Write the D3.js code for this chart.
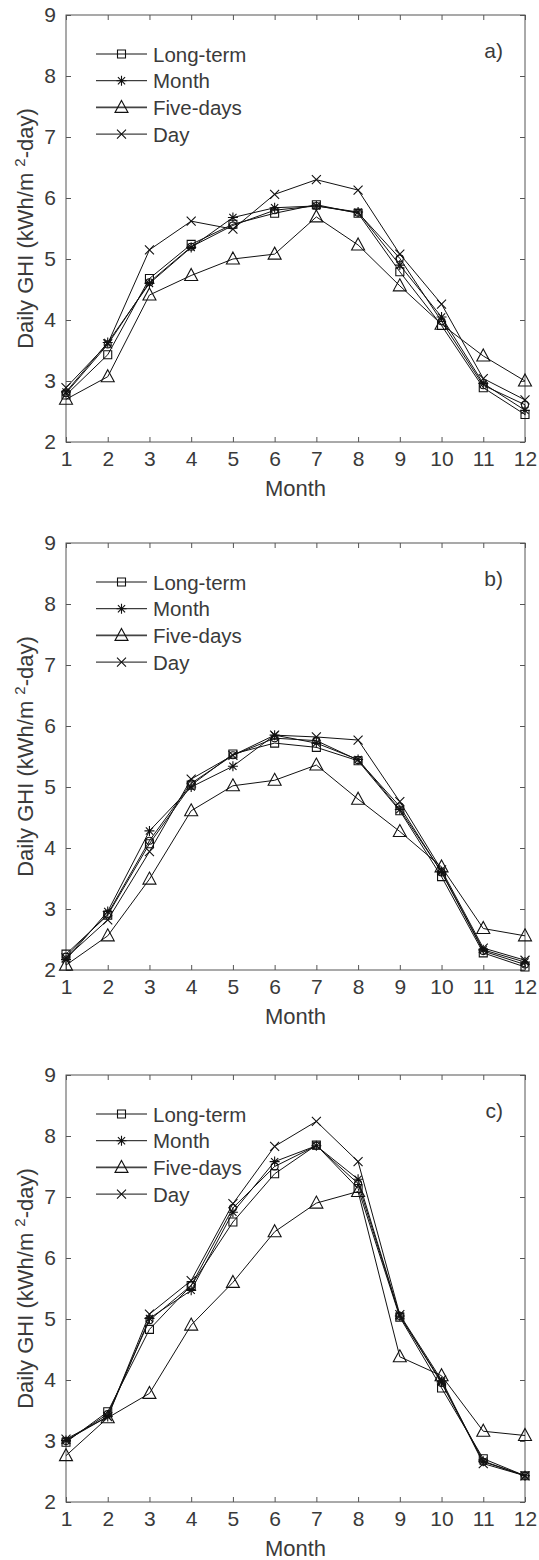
<!DOCTYPE html>
<html>
<head>
<meta charset="utf-8">
<script src="https://cdn.jsdelivr.net/npm/d3@7"></script>
<style>
    body { margin: 0; background: #fff; }
    text { font-family: "Liberation Sans", Arial, sans-serif; fill: #3a3a3a; }
</style>
</head>
<body>
<div id="chart"></div>
<script>
// months on the x axis
const months = [1, 2, 3, 4, 5, 6, 7, 8, 9, 10, 11, 12];
const yTicks = [2, 3, 4, 5, 6, 7, 8, 9];
const seriesNames = ["Long-term", "Month", "Five-days", "Day"];

// panel a)
const longA = [2.77, 3.43, 4.68, 5.24, 5.57, 5.75, 5.89, 5.75, 4.79, 3.91, 2.89, 2.45];
const monthA = [2.82, 3.63, 4.60, 5.19, 5.68, 5.84, 5.87, 5.77, 4.90, 4.05, 2.96, 2.52];
const fiveA = [2.70, 3.07, 4.41, 4.73, 5.00, 5.08, 5.69, 5.23, 4.56, 3.93, 3.41, 3.00];
const dayA = [2.89, 3.61, 5.15, 5.62, 5.49, 6.06, 6.30, 6.13, 5.08, 4.26, 3.04, 2.69];
const circA = [2.80, 3.60, 4.62, 5.20, 5.55, 5.80, 5.87, 5.76, 5.01, 3.98, 2.93, 2.61];

// panel b)
const longB = [2.26, 2.90, 4.07, 5.03, 5.54, 5.72, 5.65, 5.43, 4.61, 3.53, 2.28, 2.05];
const monthB = [2.17, 2.96, 4.28, 5.00, 5.34, 5.85, 5.72, 5.45, 4.63, 3.61, 2.33, 2.13];
const fiveB = [2.08, 2.56, 3.49, 4.61, 5.02, 5.11, 5.36, 4.80, 4.27, 3.69, 2.68, 2.56];
const dayB = [2.20, 2.82, 3.94, 5.13, 5.52, 5.85, 5.82, 5.77, 4.76, 3.64, 2.36, 2.16];
const circB = [2.22, 2.92, 4.12, 5.06, 5.52, 5.80, 5.76, 5.44, 4.68, 3.60, 2.31, 2.09];

// panel c)
const longC = [2.98, 3.48, 4.83, 5.55, 6.59, 7.38, 7.85, 7.14, 5.03, 3.87, 2.71, 2.43];
const monthC = [3.01, 3.40, 5.01, 5.47, 6.75, 7.58, 7.84, 7.29, 5.05, 3.97, 2.67, 2.43];
const fiveC = [2.76, 3.38, 3.78, 4.90, 5.60, 6.43, 6.90, 7.09, 4.38, 4.07, 3.16, 3.09];
const dayC = [3.03, 3.40, 5.08, 5.63, 6.89, 7.83, 8.24, 7.58, 5.07, 4.00, 2.63, 2.43];
const circC = [3.00, 3.44, 4.98, 5.55, 6.82, 7.50, 7.84, 7.22, 5.05, 3.95, 2.66, 2.43];

const panels = [
    { label: "a)", top: 15, bottom: 442, series: [longA, monthA, fiveA, dayA, circA] },
    { label: "b)", top: 543, bottom: 970, series: [longB, monthB, fiveB, dayB, circB] },
    { label: "c)", top: 1075, bottom: 1502, series: [longC, monthC, fiveC, dayC, circC] }
];
const markerTypes = ["square", "star", "triangle", "cross", "circle"];

const width = 539, height = 1560;
const left = 66, right = 525;
const axisColor = "#555";

const svg = d3.select("#chart").append("svg")
    .attr("width", width)
    .attr("height", height);

function markerPath(type) {
    const p = d3.path();
    if (type === "square") {
        p.rect(-4, -4, 8, 8);
    } else if (type === "star") {
        p.moveTo(-5, 0); p.lineTo(5, 0);
        p.moveTo(0, -5); p.lineTo(0, 5);
        p.moveTo(-3.6, -3.6); p.lineTo(3.6, 3.6);
        p.moveTo(-3.6, 3.6); p.lineTo(3.6, -3.6);
    } else if (type === "triangle") {
        p.moveTo(0, -7); p.lineTo(6.5, 5); p.lineTo(-6.5, 5); p.closePath();
    } else if (type === "cross") {
        p.moveTo(-4.5, -4.5); p.lineTo(4.5, 4.5);
        p.moveTo(-4.5, 4.5); p.lineTo(4.5, -4.5);
    } else {
        p.arc(0, 0, 3.5, 0, 2 * Math.PI);
    }
    return p.toString();
}

panels.forEach(panel => {
    const x = d3.scaleLinear().domain([1, 12]).range([left, right]);
    const y = d3.scaleLinear().domain([2, 9]).range([panel.bottom, panel.top]);
    const g = svg.append("g");

    // box
    g.append("rect")
        .attr("x", left).attr("y", panel.top)
        .attr("width", right - left).attr("height", panel.bottom - panel.top)
        .attr("fill", "none").attr("stroke", axisColor).attr("stroke-width", 1);

    // inward ticks on all four sides
    const bottomAxis = d3.axisBottom(x).tickValues(months).tickSize(-5).tickPadding(9).tickFormat(d3.format("d"));
    const topAxis = d3.axisTop(x).tickValues(months).tickSize(-5).tickFormat("");
    const leftAxis = d3.axisLeft(y).tickValues(yTicks).tickSize(-5).tickPadding(10).tickFormat(d3.format("d"));
    const rightAxis = d3.axisRight(y).tickValues(yTicks).tickSize(-5).tickFormat("");

    [[bottomAxis, `translate(0,${panel.bottom})`], [topAxis, `translate(0,${panel.top})`],
     [leftAxis, `translate(${left},0)`], [rightAxis, `translate(${right},0)`]].forEach(([ax, tr]) => {
        const a = g.append("g").attr("transform", tr).call(ax);
        a.select(".domain").remove();
        a.selectAll("line").attr("stroke", axisColor);
        a.selectAll("text")
            .style("font-family", '"Liberation Sans", Arial, sans-serif')
            .style("font-size", "21px")
            .attr("fill", "#3a3a3a");
    });

    // axis titles
    g.append("text")
        .attr("x", (left + right) / 2)
        .attr("y", panel.bottom + 54)
        .attr("text-anchor", "middle")
        .style("font-size", "22px")
        .text("Month");

    const yl = g.append("text")
        .attr("transform", `translate(33,${(panel.top + panel.bottom) / 2}) rotate(-90)`)
        .attr("text-anchor", "middle")
        .style("font-size", "22px");
    yl.append("tspan").text("Daily GHI (kWh/m ");
    yl.append("tspan").attr("dy", -8).style("font-size", "15px").text("2");
    yl.append("tspan").attr("dy", 8).text("-day)");

    // panel tag
    g.append("text")
        .attr("x", 503)
        .attr("y", panel.top + 43)
        .attr("text-anchor", "end")
        .style("font-size", "21px")
        .text(panel.label);

    const line = d3.line()
        .x((d, i) => x(months[i]))
        .y(d => y(d));

    panel.series.forEach((vals, si) => {
        g.append("path")
            .datum(vals)
            .attr("d", line)
            .attr("fill", "none")
            .attr("stroke", "#111")
            .attr("stroke-width", 1);

        g.selectAll(null)
            .data(vals)
            .enter().append("path")
            .attr("transform", (d, i) => `translate(${x(months[i])},${y(d)})`)
            .attr("d", markerPath(markerTypes[si]))
            .attr("fill", "none")
            .attr("stroke", "#111")
            .attr("stroke-width", 1.1);
    });

    // legend
    const lg = g.append("g");
    seriesNames.forEach((name, i) => {
        const ry = panel.top + 39 + i * 26.7;
        lg.append("line")
            .attr("x1", 96).attr("x2", 147)
            .attr("y1", ry).attr("y2", ry)
            .attr("stroke", i === 2 ? "#444" : "#111")
            .attr("stroke-width", i === 2 ? 1.6 : 1);
        lg.append("path")
            .attr("transform", `translate(121.5,${ry})`)
            .attr("d", markerPath(markerTypes[i]))
            .attr("fill", "none")
            .attr("stroke", "#111")
            .attr("stroke-width", 1.1);
        lg.append("text")
            .attr("x", 153)
            .attr("y", ry + 7.5)
            .style("font-size", "20.5px")
            .text(name);
    });
});
</script>
</body>
</html>
